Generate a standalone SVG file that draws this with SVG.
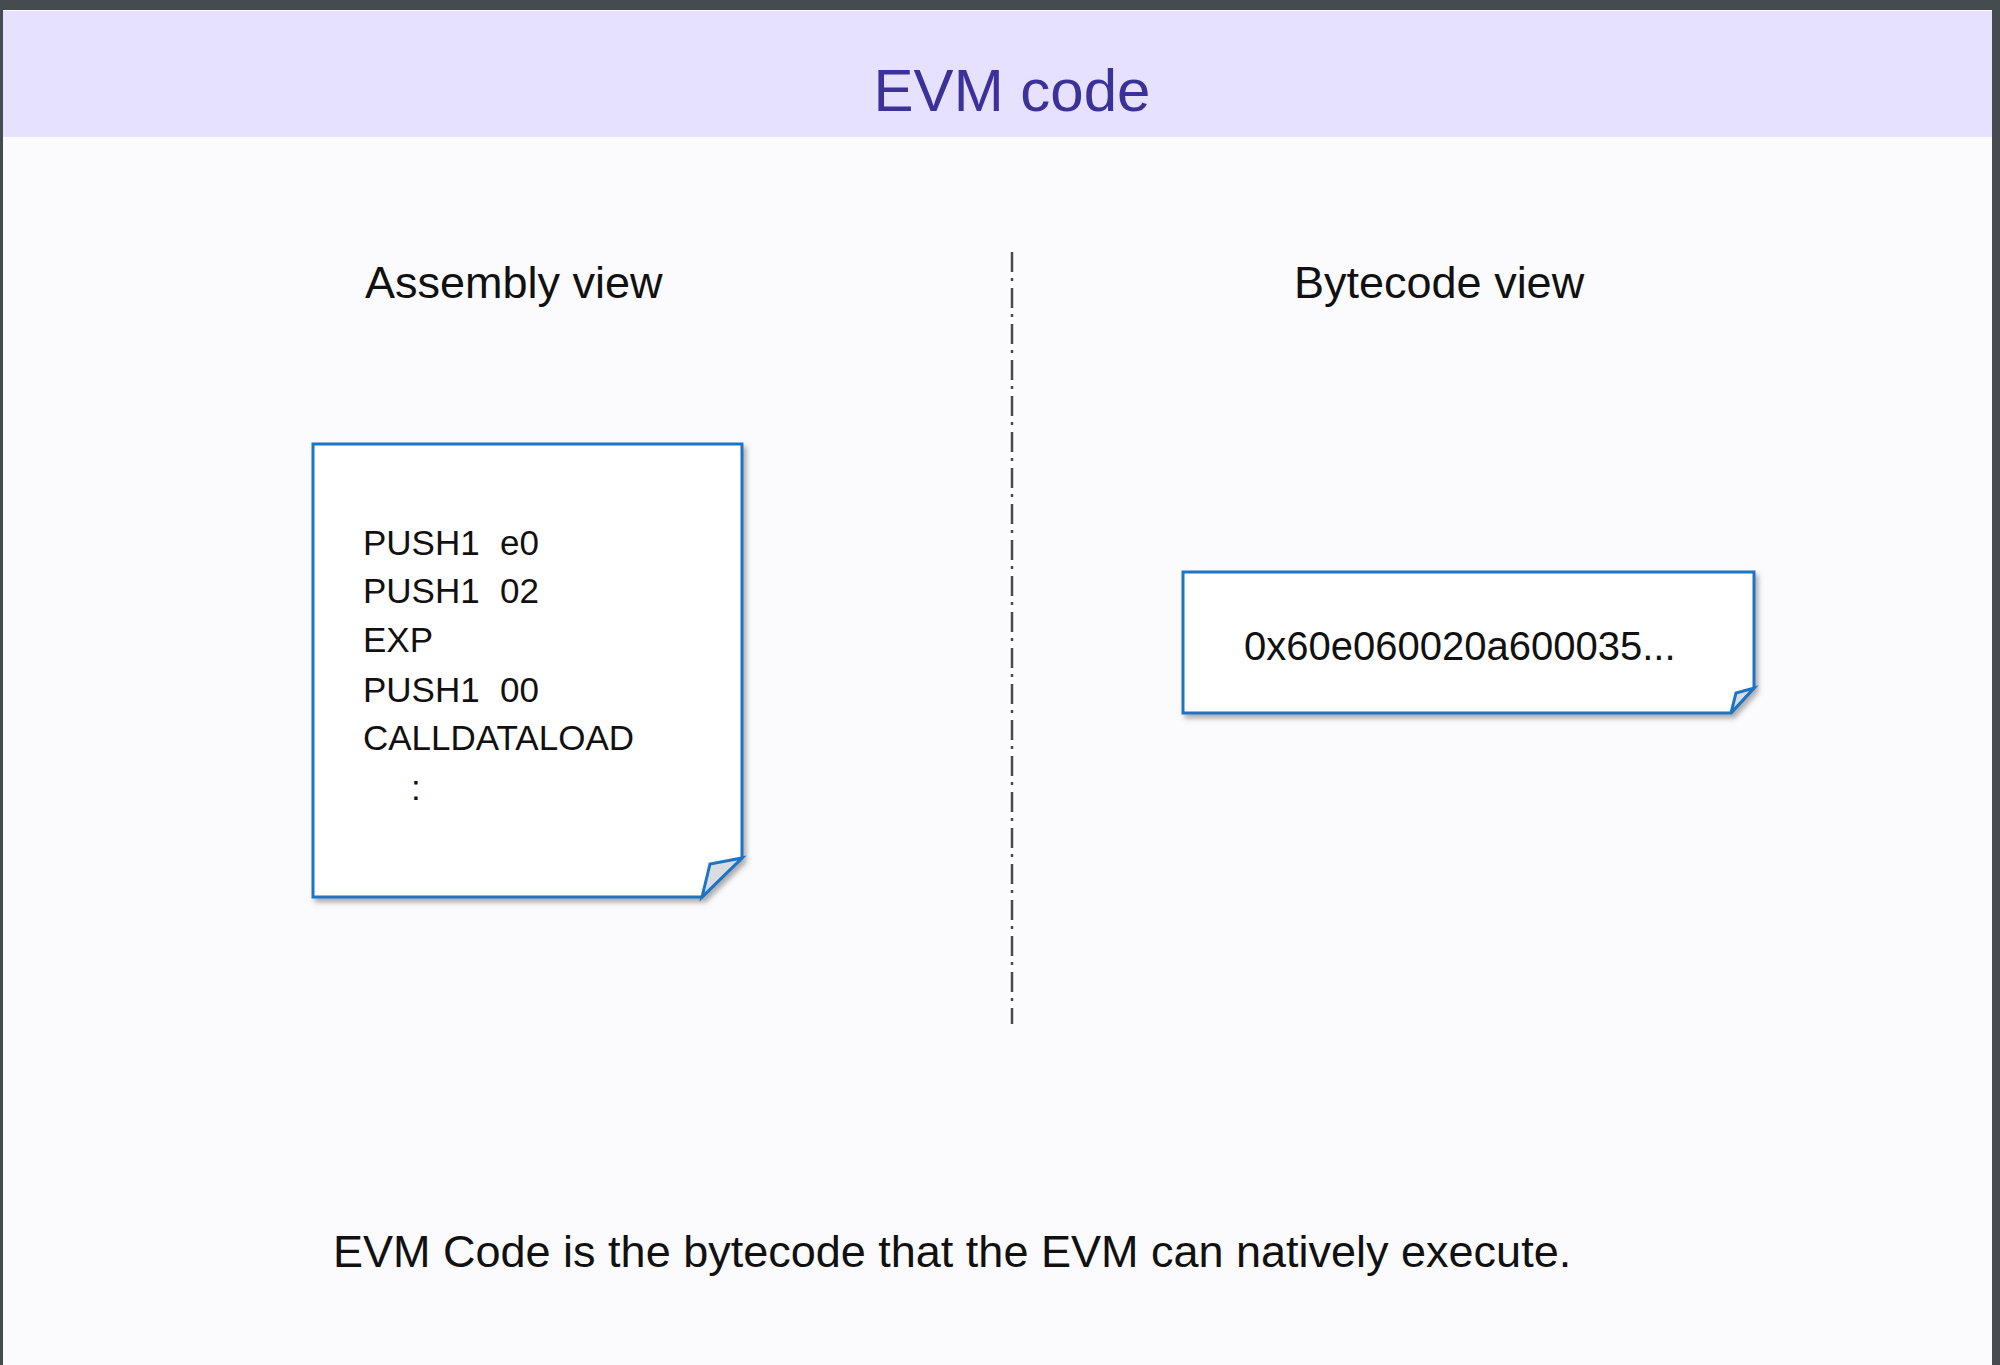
<svg xmlns="http://www.w3.org/2000/svg" width="2000" height="1365" viewBox="0 0 2000 1365">
<defs>
<filter id="shadow" x="-5%" y="-5%" width="115%" height="120%">
<feDropShadow dx="3" dy="4" stdDeviation="2.5" flood-color="#7a7a7a" flood-opacity="0.6"/>
</filter>
</defs>
<style>
.doc{fill:#ffffff;stroke:#1c74c4;stroke-width:3;stroke-linejoin:miter;filter:url(#shadow)}
.flap{fill:#d9dde2;stroke:#1c74c4;stroke-width:3;stroke-linejoin:miter}
.t{font-family:"Liberation Sans",Arial,sans-serif;fill:#111111}
.code{font-size:35px}
.head{font-size:45px}
</style>
<rect x="0" y="0" width="2000" height="1365" fill="#464b50"/>
<rect x="3" y="10" width="1989" height="1355" fill="#fbfbfe"/>
<rect x="3" y="11" width="1989" height="126" fill="#e6e1fe"/>
<text x="1012" y="111" text-anchor="middle" font-family="Liberation Sans, Arial, sans-serif" font-size="60" fill="#3b3199">EVM code</text>
<text class="t head" x="365" y="298">Assembly view</text>
<text class="t head" x="1294" y="298">Bytecode view</text>
<g id="connectors">
<line x1="1012" y1="252" x2="1012" y2="1024" stroke="#4a4a4a" stroke-width="2.5" stroke-dasharray="20 6 3 7"/>
</g>
<g id="assembly">
<path class="doc" d="M313,444 H742 V858 L702,897 H313 Z"/>
<path class="flap" d="M702,897 L710,864 L742,858 Z"/>
<text class="t code" x="363" y="555">PUSH1<tspan x="500">e0</tspan></text>
<text class="t code" x="363" y="603">PUSH1<tspan x="500">02</tspan></text>
<text class="t code" x="363" y="652">EXP</text>
<text class="t code" x="363" y="702">PUSH1<tspan x="500">00</tspan></text>
<text class="t code" x="363" y="750">CALLDATALOAD</text>
<text class="t code" x="411" y="800">:</text>
</g>
<g id="bytecode">
<path class="doc" d="M1183,572 H1754 V688 L1731,713 H1183 Z"/>
<path class="flap" d="M1731,713 L1736,693 L1754,688 Z"/>
<text class="t" x="1244" y="660" font-size="40">0x60e060020a600035...</text>
</g>
<text class="t" x="333" y="1267" font-size="45">EVM Code is the bytecode that the EVM can natively execute.</text>
</svg>
